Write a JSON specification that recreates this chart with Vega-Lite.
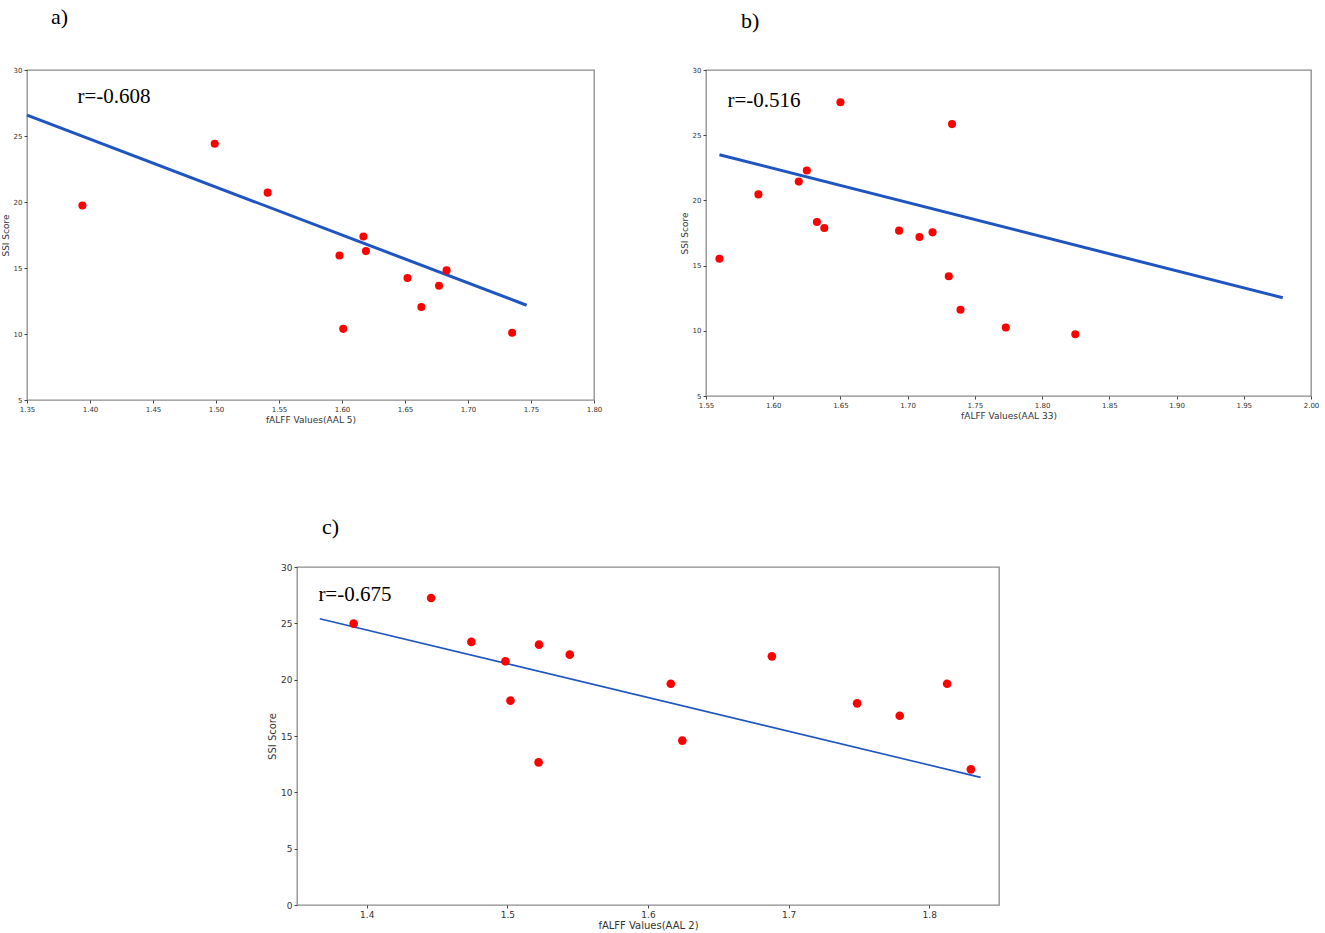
{
  "$schema": "https://vega.github.io/schema/vega-lite/v6.json",
  "padding": {"left": 0, "top": 5, "right": 10, "bottom": 0},
  "background": "white",
  "config": {
    "view": {"stroke": "#8c8c8c", "strokeWidth": 1.3},
    "axis": {
      "grid": false,
      "domain": false,
      "tickColor": "#444",
      "tickSize": 3,
      "labelColor": "#333",
      "titleColor": "#333",
      "labelFont": "DejaVu Sans",
      "titleFont": "DejaVu Sans",
      "titleFontWeight": "normal",
      "labelFlush": false,
      "labelOverlap": false,
      "labelPadding": 2,
      "titlePadding": 3
    },
    "title": {"font": "Liberation Serif", "fontSize": 22, "fontWeight": "normal", "anchor": "start", "frame": "group", "color": "#000"}
  },
  "datasets": {
    "a": [
      {"x": 1.394, "y": 19.73}, {"x": 1.499, "y": 24.41}, {"x": 1.541, "y": 20.71},
      {"x": 1.598, "y": 15.95}, {"x": 1.601, "y": 10.39}, {"x": 1.617, "y": 17.39},
      {"x": 1.619, "y": 16.28}, {"x": 1.652, "y": 14.24}, {"x": 1.663, "y": 12.05},
      {"x": 1.677, "y": 13.66}, {"x": 1.683, "y": 14.82}, {"x": 1.735, "y": 10.09}
    ],
    "aFit": [{"x": 1.35, "y": 26.58}, {"x": 1.7465, "y": 12.18}],
    "b": [
      {"x": 1.560, "y": 15.52}, {"x": 1.589, "y": 20.46}, {"x": 1.619, "y": 21.44},
      {"x": 1.625, "y": 22.29}, {"x": 1.6325, "y": 18.35}, {"x": 1.638, "y": 17.89},
      {"x": 1.650, "y": 27.53}, {"x": 1.6936, "y": 17.68}, {"x": 1.7088, "y": 17.19},
      {"x": 1.7185, "y": 17.55}, {"x": 1.7306, "y": 14.18}, {"x": 1.733, "y": 25.85},
      {"x": 1.7393, "y": 11.62}, {"x": 1.773, "y": 10.26}, {"x": 1.8247, "y": 9.74}
    ],
    "bFit": [{"x": 1.560, "y": 23.5}, {"x": 1.979, "y": 12.53}],
    "c": [
      {"x": 1.3907, "y": 24.97}, {"x": 1.4458, "y": 27.25}, {"x": 1.4744, "y": 23.35},
      {"x": 1.4986, "y": 21.63}, {"x": 1.5022, "y": 18.14}, {"x": 1.5225, "y": 23.11},
      {"x": 1.5222, "y": 12.66}, {"x": 1.5444, "y": 22.22}, {"x": 1.6162, "y": 19.64},
      {"x": 1.6244, "y": 14.59}, {"x": 1.6881, "y": 22.07}, {"x": 1.7487, "y": 17.9},
      {"x": 1.779, "y": 16.8}, {"x": 1.8127, "y": 19.64}, {"x": 1.8296, "y": 12.04}
    ],
    "cFit": [{"x": 1.3666, "y": 25.41}, {"x": 1.8365, "y": 11.33}]
  },
  "spacing": 90,
  "vconcat": [
    {
      "spacing": 76,
      "hconcat": [
        {
          "title": {"text": "a)", "dx": 24, "offset": 37},
          "width": 567,
          "height": 330,
          "layer": [
            {
              "data": {"name": "aFit"},
              "mark": {"type": "line", "color": "#1f55c0", "strokeWidth": 3},
              "encoding": {
                "x": {"field": "x", "type": "quantitative", "scale": {"domain": [1.35, 1.8], "zero": false, "nice": false},
                  "axis": {"values": [1.35, 1.4, 1.45, 1.5, 1.55, 1.6, 1.65, 1.7, 1.75, 1.8], "format": ".2f", "title": "fALFF Values(AAL 5)", "labelFontSize": 7, "titleFontSize": 9}},
                "y": {"field": "y", "type": "quantitative", "scale": {"domain": [5, 30], "zero": false, "nice": false},
                  "axis": {"values": [5, 10, 15, 20, 25, 30], "title": "SSI Score", "labelFontSize": 7, "titleFontSize": 9}}
              }
            },
            {
              "data": {"name": "a"},
              "mark": {"type": "circle", "color": "#ff0000", "opacity": 1, "size": 65},
              "encoding": {
                "x": {"field": "x", "type": "quantitative"},
                "y": {"field": "y", "type": "quantitative"}
              }
            },
            {
              "data": {"values": [{"x": 1.39, "y": 27.95, "label": "r=-0.608"}]},
              "mark": {"type": "text", "font": "Liberation Serif", "fontSize": 21, "align": "left", "baseline": "middle", "color": "#000"},
              "encoding": {
                "x": {"field": "x", "type": "quantitative"},
                "y": {"field": "y", "type": "quantitative"},
                "text": {"field": "label"}
              }
            }
          ]
        },
        {
          "title": {"text": "b)", "dx": 35, "offset": 33},
          "width": 605,
          "height": 326,
          "layer": [
            {
              "data": {"name": "bFit"},
              "mark": {"type": "line", "color": "#1f55c0", "strokeWidth": 3},
              "encoding": {
                "x": {"field": "x", "type": "quantitative", "scale": {"domain": [1.55, 2.0], "zero": false, "nice": false},
                  "axis": {"values": [1.55, 1.6, 1.65, 1.7, 1.75, 1.8, 1.85, 1.9, 1.95, 2.0], "format": ".2f", "title": "fALFF Values(AAL 33)", "labelFontSize": 7, "titleFontSize": 9}},
                "y": {"field": "y", "type": "quantitative", "scale": {"domain": [5, 30], "zero": false, "nice": false},
                  "axis": {"values": [5, 10, 15, 20, 25, 30], "title": "SSI Score", "labelFontSize": 7, "titleFontSize": 9}}
              }
            },
            {
              "data": {"name": "b"},
              "mark": {"type": "circle", "color": "#ff0000", "opacity": 1, "size": 65},
              "encoding": {
                "x": {"field": "x", "type": "quantitative"},
                "y": {"field": "y", "type": "quantitative"}
              }
            },
            {
              "data": {"values": [{"x": 1.566, "y": 27.6, "label": "r=-0.516"}]},
              "mark": {"type": "text", "font": "Liberation Serif", "fontSize": 21, "align": "left", "baseline": "middle", "color": "#000"},
              "encoding": {
                "x": {"field": "x", "type": "quantitative"},
                "y": {"field": "y", "type": "quantitative"},
                "text": {"field": "label"}
              }
            }
          ]
        }
      ]
    },
    {
      "spacing": 0,
      "hconcat": [
        {
          "width": 239,
          "height": 10,
          "view": {"stroke": null},
          "data": {"values": []},
          "mark": {"type": "point", "opacity": 0},
          "encoding": {}
        },
        {
          "title": {"text": "c)", "dx": 25, "offset": 24},
          "width": 702,
          "height": 338,
          "layer": [
            {
              "data": {"name": "cFit"},
              "mark": {"type": "line", "color": "#1f55c0", "strokeWidth": 1.6},
              "encoding": {
                "x": {"field": "x", "type": "quantitative", "scale": {"domain": [1.3504, 1.8496], "zero": false, "nice": false},
                  "axis": {"values": [1.4, 1.5, 1.6, 1.7, 1.8], "format": ".1f", "title": "fALFF Values(AAL 2)", "labelFontSize": 9, "titleFontSize": 10, "titlePadding": 1}},
                "y": {"field": "y", "type": "quantitative", "scale": {"domain": [0, 30], "nice": false},
                  "axis": {"values": [0, 5, 10, 15, 20, 25, 30], "title": "SSI Score", "labelFontSize": 9, "titleFontSize": 10}}
              }
            },
            {
              "data": {"name": "c"},
              "mark": {"type": "circle", "color": "#ff0000", "opacity": 1, "size": 75},
              "encoding": {
                "x": {"field": "x", "type": "quantitative"},
                "y": {"field": "y", "type": "quantitative"}
              }
            },
            {
              "data": {"values": [{"x": 1.3656, "y": 27.5, "label": "r=-0.675"}]},
              "mark": {"type": "text", "font": "Liberation Serif", "fontSize": 21, "align": "left", "baseline": "middle", "color": "#000"},
              "encoding": {
                "x": {"field": "x", "type": "quantitative"},
                "y": {"field": "y", "type": "quantitative"},
                "text": {"field": "label"}
              }
            }
          ]
        }
      ]
    }
  ]
}
